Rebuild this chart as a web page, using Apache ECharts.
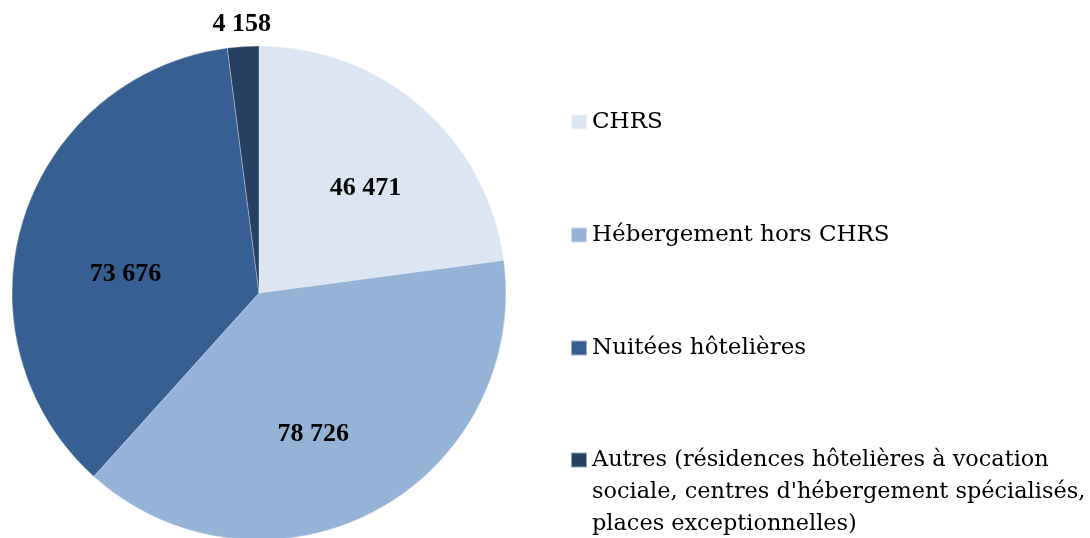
<!DOCTYPE html>
<html lang="fr">
<head>
    <meta charset="UTF-8">
    <title>Répartition des places</title>
    <script src="https://cdn.jsdelivr.net/npm/echarts@6/dist/echarts.min.js"></script>
    <style>
        html, body { margin: 0; padding: 0; background: #fff; }
        #chart { width: 1090px; height: 538px; }
    </style>
</head>
<body>
<div id="chart"></div>
<script>
    // données
    const categories = [
        'CHRS',
        'Hébergement hors CHRS',
        'Nuitées hôtelières',
        "Autres (résidences hôtelières à vocation sociale, centres d'hébergement spécialisés, places exceptionnelles)"
    ];
    const values = [46471, 78726, 73676, 4158];
    const colors = ['#dce6f2', '#95b3d7', '#376092', '#254061'];

    const serif = "'Palatino Linotype', 'Book Antiqua', Palatino, 'DejaVu Serif', serif";
    const labelFont = "'Palatino Linotype', 'Book Antiqua', 'Liberation Serif', serif";
    const cx = 259, cy = 293, R = 247;
    // petits décalages des étiquettes (placement à la Excel)
    const labelNudge = [[9, 7], [-15, 10], [8, 25], [0, 0]];

    const fmt = v => String(v).replace(/\B(?=(\d{3})+(?!\d))/g, ' ');

    const legendBase = {
        orient: 'vertical',
        left: 565,
        height: 800,
        itemWidth: 16,
        itemHeight: 15,
        itemGap: 77,
        icon: 'rect',
        textStyle: {
            fontFamily: serif,
            fontSize: 23,
            color: '#000',
            lineHeight: 36
        }
    };

    let chart = echarts.init(document.getElementById('chart'));

    chart.setOption({
        backgroundColor: '#fff',
        animation: false,
        legend: [
            Object.assign({}, legendBase, {
                top: 99,
                data: categories.slice(0, 3)
            }),
            Object.assign({}, legendBase, {
                top: 375,
                data: categories.slice(3),
                textStyle: Object.assign({}, legendBase.textStyle, { fontSize: 22.4, lineHeight: 32 }),
                // deux lignes vides pour aligner la 1re ligne sur le carré
                formatter: () => '\n\nAutres (résidences hôtelières à vocation\nsociale, centres d\'hébergement spécialisés,\nplaces exceptionnelles)'
            })
        ],
        series: [
            {
                type: 'pie',
                center: [cx, cy],
                radius: [0, R],
                startAngle: 90,
                clockwise: true,
                color: colors,
                itemStyle: {
                    borderColor: 'rgba(255,255,255,0.5)',
                    borderWidth: 0.6
                },
                label: {
                    show: true,
                    position: 'inside',
                    formatter: p => fmt(p.value),
                    fontFamily: labelFont,
                    fontWeight: 'bold',
                    fontSize: 26,
                    color: '#000'
                },
                labelLine: { show: false },
                // écarter les étiquettes du centre (petite part à l'extérieur)
                labelLayout: function (p) {
                    const r = p.labelRect;
                    const lx = r.x + r.width / 2 - cx;
                    const ly = r.y + r.height / 2 - cy;
                    const d = Math.sqrt(lx * lx + ly * ly) || 1;
                    const rad = p.dataIndex === 3 ? R + 22 : R * 0.6;
                    const n = labelNudge[p.dataIndex];
                    return {
                        x: cx + lx / d * rad + n[0],
                        y: cy + ly / d * rad + n[1],
                        align: 'center',
                        verticalAlign: 'middle'
                    };
                },
                data: categories.map((name, i) => ({ name, value: values[i] }))
            }
        ]
    });
</script>
</body>
</html>
